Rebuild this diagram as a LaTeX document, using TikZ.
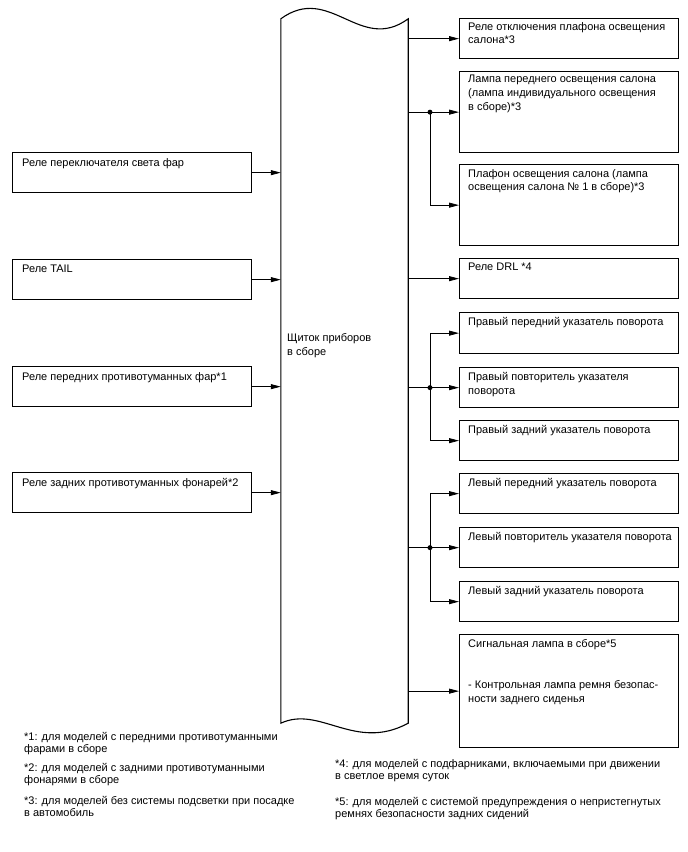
\documentclass[tikz,border=0pt]{standalone}
\usepackage{fontspec}
\setmainfont{Liberation Sans}
\usetikzlibrary{arrows.meta}

\begin{document}
\begin{tikzpicture}[
  x=1pt, y=-1pt,
  unit/.style={draw, line width=1.3pt, anchor=north west, inner sep=0pt},
  lbox/.style={unit, minimum width=239pt, minimum height=40pt},
  rbox/.style={unit, minimum width=219pt},
  txt/.style={anchor=north west, align=left, inner sep=0pt, font=\fontsize{11}{13.7}\selectfont},
  note/.style={anchor=north west, align=left, inner sep=0pt, font=\fontsize{11}{12.3}\selectfont},
  arrow/.style={->, >={Triangle[length=10pt, width=5pt]}, line width=0.8pt},
  dot/.style={circle, fill, inner sep=0pt, minimum size=5pt}
]
\useasboundingbox (0,0) rectangle (688,852);

% Combination meter (tape shape)
\node[minimum width=127pt, minimum height=704pt, inner sep=0pt] (panel) at (344.5, 371) {};
\draw[line width=1.1pt] (panel.north west) .. controls (330,-17) and (360,54) .. (panel.north east)
  -- (panel.south east) .. controls (355,752) and (320,705) .. (panel.south west) -- cycle;
\node[txt, anchor=west] (paneltext) at (287, 345.5) {Щиток приборов\\в сборе};

% Inputs
\node[lbox] (headrelay) at (12, 152) {};
\node[txt] (headrelayt) at ([shift={(10,6)}]headrelay.north west) {Реле переключателя света фар};
\node[lbox] (tailrelay) at (12, 259) {};
\node[txt] (tailrelayt) at ([shift={(10,6)}]tailrelay.north west) {Реле TAIL};
\node[lbox] (ffogrelay) at (12, 366) {};
\node[txt] (ffogrelayt) at ([shift={(10,6)}]ffogrelay.north west) {Реле передних противотуманных фар*1};
\node[lbox] (rfogrelay) at (12, 472) {};
\node[txt] (rfogrelayt) at ([shift={(10,6)}]rfogrelay.north west) {Реле задних противотуманных фонарей*2};

\draw[arrow] (headrelay.east) -- (headrelay.east -| panel.west);
\draw[arrow] (tailrelay.east) -- (tailrelay.east -| panel.west);
\draw[arrow] (ffogrelay.east) -- (ffogrelay.east -| panel.west);
\draw[arrow] (rfogrelay.east) -- (rfogrelay.east -| panel.west);

% Interior lights
\node[rbox, minimum height=40pt] (cutoff) at (459, 18) {};
\node[txt] (cutofft) at ([shift={(9,4)}]cutoff.north west) {Реле отключения плафона освещения\\салона*3};
\node[rbox, minimum height=81pt] (frontlamp) at (459, 71) {};
\node[txt] (frontlampt) at ([shift={(9,4)}]frontlamp.north west) {Лампа переднего освещения салона\\(лампа индивидуального освещения\\в сборе)*3};
\node[rbox, minimum height=81pt] (domelamp) at (459, 164) {};
\node[txt] (domelampt) at ([shift={(9,5)}]domelamp.north west) {Плафон освещения салона (лампа\\освещения салона № 1 в сборе)*3};
\node[rbox, minimum height=40pt] (drl) at (459, 258) {};
\node[txt] (drlt) at ([shift={(9,5)}]drl.north west) {Реле DRL *4};

% Right turn signals
\node[rbox, minimum height=41pt] (rfront) at (459, 312) {};
\node[txt] (rfrontt) at ([shift={(9,5)}]rfront.north west) {Правый передний указатель поворота};
\node[rbox, minimum height=40pt] (rside) at (459, 367) {};
\node[txt] (rsidet) at ([shift={(9,5)}]rside.north west) {Правый повторитель указателя\\поворота};
\node[rbox, minimum height=40pt] (rrear) at (459, 420) {};
\node[txt] (rreart) at ([shift={(9,5)}]rrear.north west) {Правый задний указатель поворота};

% Left turn signals
\node[rbox, minimum height=40pt] (lfront) at (459, 473) {};
\node[txt] (lfrontt) at ([shift={(9,5)}]lfront.north west) {Левый передний указатель поворота};
\node[rbox, minimum height=40pt] (lside) at (459, 527) {};
\node[txt] (lsidet) at ([shift={(9,5)}]lside.north west) {Левый повторитель указателя поворота};
\node[rbox, minimum height=40pt] (lrear) at (459, 581) {};
\node[txt] (lreart) at ([shift={(9,5)}]lrear.north west) {Левый задний указатель поворота};

% Warning light
\node[rbox, minimum height=113pt] (warn) at (459, 634) {};
\node[txt] (warnt) at ([shift={(9,5)}]warn.north west) {Сигнальная лампа в сборе*5\\[27.4pt]- Контрольная лампа ремня безопас-\\ности заднего сиденья};

% Outputs
\coordinate (bus) at (430, 0);
\node[dot] (j1) at (frontlamp.west -| bus) {};
\node[dot] (j2) at (rside.west -| bus) {};
\node[dot] (j3) at (lside.west -| bus) {};

\draw[arrow] (panel.east |- cutoff.west) -- (cutoff.west);
\draw[arrow] (panel.east |- frontlamp.west) -- (frontlamp.west);
\draw[arrow] (j1.center) |- (domelamp.west);
\draw[arrow] (panel.east |- drl.west) -- (drl.west);
\draw[arrow] (panel.east |- rside.west) -- (rside.west);
\draw[arrow] (j2.center) |- (rfront.west);
\draw[arrow] (j2.center) |- (rrear.west);
\draw[arrow] (panel.east |- lside.west) -- (lside.west);
\draw[arrow] (j3.center) |- (lfront.west);
\draw[arrow] (j3.center) |- (lrear.west);
\draw[arrow] (panel.east |- warn.west) -- (warn.west);

% Notes
\node[note] (fn1) at (24, 732) {*1: для моделей с передними противотуманными\\фарами в сборе};
\node[note] (fn2) at (24, 763) {*2: для моделей с задними противотуманными\\фонарями в сборе};
\node[note] (fn3) at (24, 796) {*3: для моделей без системы подсветки при посадке\\в автомобиль};
\node[note] (fn4) at (335, 759) {*4: для моделей с подфарниками, включаемыми при движении\\в светлое время суток};
\node[note] (fn5) at (335, 797) {*5: для моделей с системой предупреждения о непристегнутых\\ремнях безопасности задних сидений};

\end{tikzpicture}
\end{document}
